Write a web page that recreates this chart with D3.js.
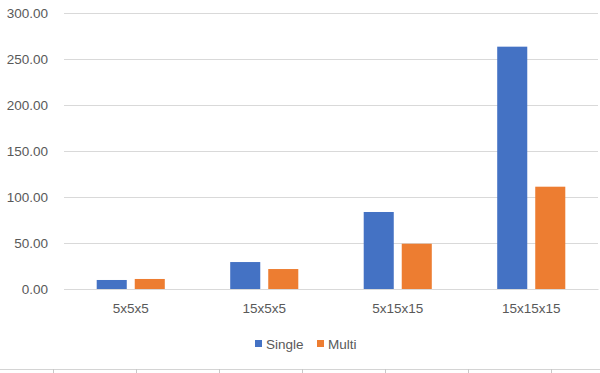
<!DOCTYPE html>
<html>
<head>
<meta charset="utf-8">
<script src="https://cdn.jsdelivr.net/npm/d3@7/dist/d3.min.js"></script>
<style>
  body { margin: 0; background: #fff; }
  svg { display: block; font-family: "Liberation Sans", Arial, sans-serif; }
</style>
</head>
<body>
<svg width="600" height="373"></svg>
<script>
const categories = ['5x5x5', '15x5x5', '5x15x15', '15x15x15']
const seriesNames = ['Single', 'Multi']
const single = [9.8, 29.3, 83.7, 263.4]
const multi = [10.9, 21.7, 49.2, 111.2]
const yTicks = [0, 50, 100, 150, 200, 250, 300]
const colors = ['#4472c4', '#ed7d31']

const svg = d3.select('svg')
const width = 600
const height = 373
const margin = { top: 13, right: 2, bottom: 84, left: 64 }

const rows = categories.map((c, i) => ({ category: c, values: [single[i], multi[i]] }))

const x0 = d3.scaleBand()
    .domain(categories)
    .range([margin.left, width - margin.right])
    .paddingInner(0.49)
    .paddingOuter(0.245)

const x1 = d3.scaleBand()
    .domain(seriesNames)
    .range([0, x0.bandwidth()])
    .paddingInner(0.21)

const y = d3.scaleLinear()
    .domain([0, 300])
    .range([height - margin.bottom, margin.top])

// gridlines and value labels
const yAxis = svg.append('g')
    .attr('transform', `translate(${margin.left},0)`)
    .call(d3.axisLeft(y).tickValues(yTicks).tickSize(-(width - margin.left - margin.right)).tickPadding(16).tickFormat(d3.format('.2f')))
yAxis.select('.domain').remove()
yAxis.selectAll('.tick line').attr('stroke', '#d9d9d9')
yAxis.selectAll('.tick text').attr('fill', '#595959').attr('font-size', 13.5)

// bars
const groups = svg.append('g').selectAll('g')
    .data(rows)
    .join('g')
    .attr('transform', d => `translate(${x0(d.category)},0)`)

groups.selectAll('rect')
    .data(d => d.values.map((v, i) => ({ name: seriesNames[i], value: v, i })))
    .join('rect')
    .attr('x', d => x1(d.name))
    .attr('width', x1.bandwidth())
    .attr('y', d => y(d.value))
    .attr('height', d => y(0) - y(d.value))
    .attr('fill', d => colors[d.i])

// category axis
const xAxis = svg.append('g')
    .attr('transform', `translate(0,${y(0)})`)
    .call(d3.axisBottom(x0).tickSize(0).tickPadding(14))
xAxis.select('.domain').attr('stroke', '#d9d9d9')
xAxis.selectAll('.tick text').attr('fill', '#595959').attr('font-size', 13.5)

// legend
const legend = svg.append('g').attr('transform', 'translate(255,344)')
const legendX = [0, 62]
seriesNames.forEach((name, i) => {
    const item = legend.append('g').attr('transform', `translate(${legendX[i]},0)`)
    item.append('rect').attr('x', 0).attr('y', -4).attr('width', 7).attr('height', 7).attr('fill', colors[i])
    item.append('text').attr('x', 11).attr('y', 0).attr('dy', '0.35em')
        .attr('fill', '#595959').attr('font-size', 13.5).text(name)
})

// sheet cell border below the chart
const cellEdges = [53, 136, 219, 302, 385, 468, 551]
svg.append('line').attr('x1', 0).attr('x2', width).attr('y1', 369.5).attr('y2', 369.5).attr('stroke', '#d4d4d4')
svg.append('g').selectAll('line').data(cellEdges).join('line')
    .attr('x1', d => d + 0.5).attr('x2', d => d + 0.5).attr('y1', 369).attr('y2', 373).attr('stroke', '#c8c8c8')
</script>
</body>
</html>
